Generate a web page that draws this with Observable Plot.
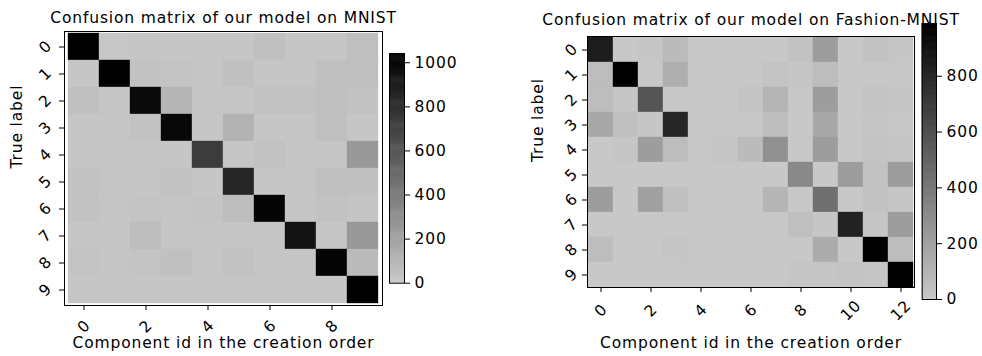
<!DOCTYPE html>
<html>
<head>
<meta charset="utf-8">
<script src="https://cdn.jsdelivr.net/npm/d3@7"></script>
<script src="https://cdn.jsdelivr.net/npm/@observablehq/plot@0.6"></script>
<style>
  html, body { margin: 0; padding: 0; background: #ffffff; overflow: hidden; }
  #wrap { position: relative; width: 982px; height: 356px; overflow: hidden; }
  #wrap > svg { position: absolute; top: 0; background: transparent !important; overflow: visible !important; max-width: none !important; }
</style>
</head>
<body>
<div id="wrap"></div>
<script>
// ---------- data ----------
const mnistTitle = "Confusion matrix of our model on MNIST";
const fashionTitle = "Confusion matrix of our model on Fashion-MNIST";
const xLabel = "Component id in the creation order";
const yLabel = "True label";

const mnistTrueLabels = [0, 1, 2, 3, 4, 5, 6, 7, 8, 9];
const mnistComponents = [0, 1, 2, 3, 4, 5, 6, 7, 8, 9];
const mnistXTicks = [0, 2, 4, 6, 8];
const mnistBarTicks = [0, 200, 400, 600, 800, 1000];
// rows: true label, columns: component id
const mnistMatrix = [
  [1040, 4, 8, 8, 8, 8, 40, 8, 8, 47],
  [10, 1042, 30, 20, 10, 40, 10, 10, 42, 47],
  [40, 8, 990, 99, 8, 8, 31, 31, 47, 31],
  [8, 8, 31, 1000, 8, 109, 8, 8, 47, 8],
  [8, 8, 8, 8, 729, 8, 31, 8, 8, 245],
  [31, 8, 8, 31, 8, 844, 8, 8, 47, 42],
  [31, 8, 21, 8, 21, 57, 1016, 8, 31, 21],
  [8, 8, 57, 8, 8, 8, 8, 938, 8, 245],
  [21, 8, 21, 42, 8, 31, 8, 8, 1016, 68],
  [8, 8, 8, 8, 8, 8, 8, 8, 8, 1042]
];

const fashionTrueLabels = [0, 1, 2, 3, 4, 5, 6, 7, 8, 9];
const fashionComponents = [0, 1, 2, 3, 4, 5, 6, 7, 8, 9, 10, 11, 12];
const fashionXTicks = [0, 2, 4, 6, 8, 10, 12];
const fashionBarTicks = [0, 200, 400, 600, 800];
const fashionMatrix = [
  [851, 0, 10, 64, 0, 0, 0, 0, 30, 213, 0, 30, 10],
  [54, 989, 0, 129, 0, 0, 0, 20, 10, 54, 0, 0, 0],
  [54, 10, 568, 0, 0, 0, 20, 94, 0, 213, 0, 20, 10],
  [158, 40, 10, 801, 0, 0, 0, 54, 0, 158, 0, 10, 0],
  [0, 10, 213, 54, 0, 10, 64, 277, 0, 213, 0, 20, 10],
  [0, 0, 0, 0, 0, 0, 0, 0, 312, 0, 213, 30, 213],
  [213, 0, 198, 40, 0, 0, 0, 94, 0, 440, 0, 30, 10],
  [0, 0, 0, 0, 0, 0, 0, 0, 44, 10, 821, 10, 213],
  [54, 0, 0, 10, 0, 0, 0, 0, 0, 138, 0, 989, 54],
  [0, 0, 0, 0, 0, 0, 0, 0, 10, 10, 20, 10, 985]
];

const colorLow = "#c8c8c8";
const colorHigh = "#000000";
// ---------- drawing ----------
const FONT = "DejaVu Sans";
const FS = 15.5;
const LS = "0.85px";
const wrap = document.getElementById("wrap");

function baseStyle() {
  return { background: "transparent", overflow: "visible", color: "#000" };
}

function finish(svg, left) {
  svg.style.left = left + "px";
  svg.style.background = "transparent";
  svg.style.overflow = "visible";
  svg.style.maxWidth = "none";
  svg.querySelectorAll("text").forEach(t => {
    t.style.fontFamily = "'DejaVu Sans'";
    t.style.fontSize = FS + "px";
    t.style.letterSpacing = LS;
  });
  wrap.appendChild(svg);
}

function heatmap(cfg) {
  const { matrix, rows, cols, xTicks, title } = cfg;
  const vmax = d3.max(matrix.flat());
  const cells = rows.flatMap((r, i) => cols.map((c, j) => ({ row: r, col: c, value: matrix[i][j] })));
  const svg = Plot.plot({
    width: cfg.width, height: 356,
    marginLeft: cfg.mL, marginRight: cfg.mR, marginTop: cfg.mT, marginBottom: cfg.mB,
    style: baseStyle(),
    x: { type: "band", domain: cols, padding: 0, axis: null },
    y: { type: "band", domain: rows, padding: 0, axis: null },
    color: { type: "linear", domain: [0, vmax], range: [colorLow, colorHigh] },
    marks: [
      Plot.cell(cells, { x: "col", y: "row", fill: "value", stroke: "value", strokeWidth: 0.35 }),
      Plot.frame({ stroke: "#000", strokeWidth: 1 }),
      Plot.axisX({ ticks: xTicks, tickSize: 5, tickPadding: cfg.xPad, tickRotate: -45,
        textAnchor: "middle", lineAnchor: "middle", label: null, fontSize: FS, fontFamily: FONT }),
      Plot.axisY({ ticks: rows, tickSize: 5, tickPadding: cfg.yPad, tickRotate: -45,
        textAnchor: "middle", lineAnchor: "middle", label: null, fontSize: FS, fontFamily: FONT }),
      Plot.text([title], { frameAnchor: "top", dy: cfg.titleDy, text: d => d, fontSize: FS, fontFamily: FONT, lineAnchor: "middle" }),
      Plot.text([xLabel], { frameAnchor: "bottom", dy: cfg.xlabelDy, text: d => d, fontSize: FS, fontFamily: FONT, lineAnchor: "middle" }),
      Plot.text([yLabel], { frameAnchor: "left", dx: cfg.ylabelDx, rotate: -90, text: d => d, fontSize: FS, fontFamily: FONT, lineAnchor: "middle" })
    ]
  });
  finish(svg, cfg.left);
}

function colorbar(cfg) {
  const { matrix, ticks } = cfg;
  const vmax = d3.max(matrix.flat());
  const n = 240;
  const step = vmax / n;
  const stops = d3.range(n).map(i => i * step);
  const svg = Plot.plot({
    width: cfg.width, height: 356,
    marginLeft: cfg.mL, marginRight: cfg.mR, marginTop: cfg.mT, marginBottom: cfg.mB,
    style: baseStyle(),
    x: { domain: [0, 1], axis: null },
    y: { domain: [0, vmax], axis: null },
    color: { type: "linear", domain: [0, vmax], range: [colorLow, colorHigh] },
    marks: [
      Plot.rect(stops, { x1: 0, x2: 1, y1: d => d, y2: d => Math.min(vmax, d + step * 1.6), fill: d => d }),
      Plot.frame({ stroke: "#000", strokeWidth: 1 }),
      Plot.axisY({ anchor: "right", ticks, tickSize: 5, tickPadding: 5, tickFormat: d3.format("d"), label: null, fontSize: FS, fontFamily: FONT })
    ]
  });
  finish(svg, cfg.left);
}

heatmap({
  matrix: mnistMatrix, rows: mnistTrueLabels, cols: mnistComponents, xTicks: mnistXTicks, title: mnistTitle,
  left: 0, width: 400, mL: 64, mR: 18, mT: 31, mB: 51,
  xPad: 16, yPad: 14, titleDy: -13.5, xlabelDy: 38, ylabelDx: -47
});
colorbar({ matrix: mnistMatrix, ticks: mnistBarTicks, left: 380, width: 110, mL: 9, mR: 86, mT: 53, mB: 73.3 });

heatmap({
  matrix: fashionMatrix, rows: fashionTrueLabels, cols: fashionComponents, xTicks: fashionXTicks, title: fashionTitle,
  left: 490, width: 440, mL: 97, mR: 16, mT: 36, mB: 69,
  xPad: 18, yPad: 11, titleDy: -16.5, xlabelDy: 56, ylabelDx: -49
});
colorbar({ matrix: fashionMatrix, ticks: fashionBarTicks, left: 910, width: 72, mL: 11.7, mR: 46, mT: 23, mB: 57 });
</script>
</body>
</html>
